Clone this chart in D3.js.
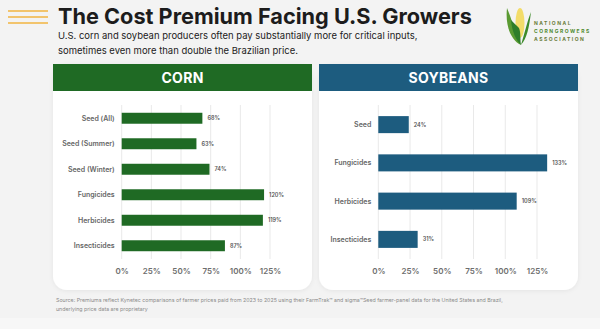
<!DOCTYPE html>
<html>
  <head>
    <meta charset="utf-8">
    <title>The Cost Premium Facing U.S. Growers</title>
    <script src="https://d3js.org/d3.v7.min.js"></script>
    <style>
      body { margin: 0; background: #f3f3f3; }
      svg { display: block; font-family: Inter, "Noto Sans", sans-serif; }
    </style>
  </head>
  <body>
    <div id="chart"></div>
    <script>
      // data
      var cornCategories = ["Seed (All)", "Seed (Summer)", "Seed (Winter)", "Fungicides", "Herbicides", "Insecticides"];
      var cornValues = [68, 63, 74, 120, 119, 87];
      var soyCategories = ["Seed", "Fungicides", "Herbicides", "Insecticides"];
      var soyValues = [24, 133, 109, 31];
      var tickValues = [0, 25, 50, 75, 100, 125];
      var subtitleLines = [
        "U.S. corn and soybean producers often pay substantially more for critical inputs,",
        "sometimes even more than double the Brazilian price."
      ];
      var sourceLines = [
        "Source: Premiums reflect Kynetec comparisons of farmer prices paid from 2023 to 2025 using their FarmTrak\u2122 and sigma\u2122Seed farmer-panel data for the United States and Brazil,",
        "underlying price data are proprietary"
      ];

      var width = 600, height = 329;
      var svg = d3.select("#chart").append("svg")
        .attr("width", width)
        .attr("height", height);

      // soft shadow for the panels
      var defs = svg.append("defs");
      var f = defs.append("filter").attr("id", "shadow")
        .attr("x", "-10%").attr("y", "-10%").attr("width", "120%").attr("height", "130%");
      f.append("feDropShadow").attr("dx", 0).attr("dy", 1).attr("stdDeviation", 2)
        .attr("flood-color", "#000").attr("flood-opacity", 0.06);

      // background + footer band
      svg.append("rect").attr("width", width).attr("height", height).attr("fill", "#f3f3f3");
      svg.append("rect").attr("y", 318).attr("width", width).attr("height", 11).attr("fill", "#f7f7f7");

      // stripes top-left
      [11, 17, 23].forEach(function(y) {
        svg.append("line")
          .attr("x1", 8).attr("x2", 48).attr("y1", y).attr("y2", y)
          .attr("stroke", "#f2c46d").attr("stroke-width", 2.2);
      });

      // fit text to a target width
      function fitText(sel, target) {
        var w = sel.node().getComputedTextLength();
        var fs = parseFloat(sel.attr("font-size"));
        sel.attr("font-size", fs * target / w);
      }

      var title = svg.append("text")
        .attr("x", 58).attr("y", 24)
        .attr("font-size", 22).attr("font-weight", 700)
        .attr("fill", "#1c1c1c")
        .text("The Cost Premium Facing U.S. Growers");
      fitText(title, 414);

      var sub = svg.selectAll(".sub").data(subtitleLines).enter().append("text")
        .attr("class", "sub")
        .attr("x", 58).attr("y", function(d, i) { return 39 + i * 14.5; })
        .attr("font-size", 11).attr("fill", "#222")
        .text(function(d) { return d; });
      fitText(d3.select(sub.nodes()[0]), 360);
      d3.select(sub.nodes()[1]).attr("font-size", d3.select(sub.nodes()[0]).attr("font-size"));

      // logo
      var logo = svg.append("g").attr("transform", "translate(519,26)");
      logo.append("path").attr("d", "M-12,-18 C-14,0 -8,14 2,19 C-4,8 -6,-4 -12,-18Z").attr("fill", "#5a9a32");
      logo.append("ellipse").attr("cx", 1).attr("cy", -3).attr("rx", 4.5).attr("ry", 15).attr("fill", "#f3dc6a");
      logo.append("path").attr("d", "M12,-14 C10,2 8,12 2,19 C6,6 8,-4 12,-14Z").attr("fill", "#3d8a2a");
      logo.append("path").attr("d", "M-8,-6 C-7,6 -3,14 2,19 C1,14 2,6 0,2 C-3,-1 -6,-4 -8,-6Z").attr("fill", "#2e7d2a");
      ["NATIONAL", "CORNGROWERS", "ASSOCIATION"].forEach(function(t, i) {
        logo.append("text")
          .attr("x", 15).attr("y", -1 + i * 8)
          .attr("font-size", 5).attr("font-weight", 700)
          .attr("letter-spacing", 1.5)
          .attr("fill", i === 1 ? "#4f8a2e" : "#6a7d3a")
          .text(t);
      });

      // panels
      function panel(opts) {
        var g = svg.append("g");
        g.append("rect")
          .attr("x", opts.x).attr("y", 64).attr("width", opts.w).attr("height", 226)
          .attr("rx", 14).attr("fill", "#fff").attr("filter", "url(#shadow)");
        g.append("rect")
          .attr("x", opts.x).attr("y", 64).attr("width", opts.w).attr("height", 27)
          .attr("fill", opts.color);
        g.append("text")
          .attr("x", opts.x + opts.w / 2).attr("y", 82.5)
          .attr("text-anchor", "middle")
          .attr("font-size", 14).attr("font-weight", 700)
          .attr("letter-spacing", 0.3)
          .attr("fill", "#fff")
          .text(opts.title);

        var x = d3.scaleLinear().domain([0, 125]).range(opts.xr);
        var y = d3.scaleBand().domain(opts.cats).range([105.5, 258.5])
          .paddingInner(opts.pad).paddingOuter(opts.pad / 2);

        // grid
        g.selectAll(".grid").data(tickValues).enter().append("line")
          .attr("x1", function(d) { return x(d); }).attr("x2", function(d) { return x(d); })
          .attr("y1", 105).attr("y2", 259)
          .attr("stroke", "#e9e9e9").attr("stroke-width", 1);

        // axis
        var axis = g.append("g")
          .attr("transform", "translate(0,260)")
          .call(d3.axisBottom(x).tickValues(tickValues).tickSize(0).tickPadding(8)
            .tickFormat(function(d) { return d + "%"; }));
        axis.select(".domain").remove();
        axis.selectAll("text")
          .attr("font-family", "Inter, sans-serif")
          .attr("font-size", 8).attr("font-weight", 600).attr("fill", "#6e6e6e");

        // category labels
        g.selectAll(".cat").data(opts.cats).enter().append("text")
          .attr("x", opts.xr[0] - 7)
          .attr("y", function(d) { return y(d) + y.bandwidth() / 2; })
          .attr("dy", "0.35em")
          .attr("text-anchor", "end")
          .attr("font-size", 7).attr("font-weight", 600).attr("fill", "#666")
          .text(function(d) { return d; });

        // bars
        g.selectAll(".bar").data(opts.vals).enter().append("rect")
          .attr("x", x(0))
          .attr("y", function(d, i) { return y(opts.cats[i]); })
          .attr("width", function(d) { return x(d) - x(0); })
          .attr("height", y.bandwidth())
          .attr("fill", opts.color);

        // value labels
        g.selectAll(".val").data(opts.vals).enter().append("text")
          .attr("x", function(d) { return x(d) + 5; })
          .attr("y", function(d, i) { return y(opts.cats[i]) + y.bandwidth() / 2; })
          .attr("dy", "0.35em")
          .attr("font-size", 5.5).attr("font-weight", 600).attr("fill", "#555")
          .text(function(d) { return d + "%"; });
      }

      panel({ x: 53, w: 259, color: "#1f6a24", title: "CORN",
        cats: cornCategories, vals: cornValues, xr: [121.7, 270], pad: 0.57 });
      panel({ x: 319, w: 259, color: "#1d5c7f", title: "SOYBEANS",
        cats: soyCategories, vals: soyValues, xr: [378.3, 537], pad: 0.555 });

      // source
      var src = svg.selectAll(".src").data(sourceLines).enter().append("text")
        .attr("x", 56).attr("y", function(d, i) { return 302 + i * 9; })
        .attr("font-size", 5).attr("fill", "#8a8a8a")
        .text(function(d) { return d; });
      fitText(d3.select(src.nodes()[0]), 448);
      d3.select(src.nodes()[1]).attr("font-size", d3.select(src.nodes()[0]).attr("font-size"));
    </script>
  </body>
</html>
